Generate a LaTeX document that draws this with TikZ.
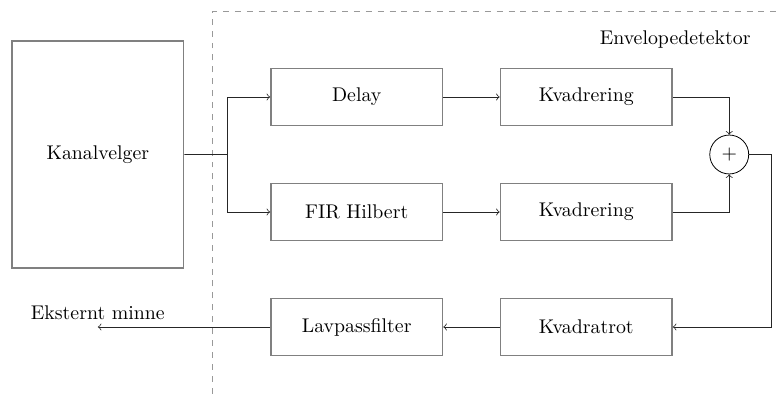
\documentclass[tikz,border=0pt]{standalone}
\usetikzlibrary{positioning,calc}

\begin{document}
\begin{tikzpicture}[
        block/.style={rectangle, draw=gray, thick, fill=white, minimum width=3.04cm, minimum height=1.01cm},
        bigblock/.style={block, minimum height=4.03cm},
        sumnode/.style={circle, draw, inner sep=0pt, minimum size=0.69cm},
        signal/.style={->, draw=black!85},
        groupline/.style={draw=gray!80, dashed}
    ]
        % envelope detector chain
        \node[block] (delay) {Delay};
        \node[block, right=1cm of delay] (kvad1) {Kvadrering};
        \node[block, below=1cm of delay] (fir) {FIR Hilbert};
        \node[block, right=1cm of fir] (kvad2) {Kvadrering};
        \node[block, below=1cm of fir] (lavpass) {Lavpassfilter};
        \node[block, right=1cm of lavpass] (kvadrot) {Kvadratrot};
        \coordinate (mid) at ($(delay.west)!0.5!(fir.west)$);
        \node[bigblock, left=1.52cm of mid] (kanal) {Kanalvelger};
        \coordinate (mid2) at ($(kvad1.east)!0.5!(kvad2.east)$);
        \node[sumnode] (sum) at ([xshift=1cm]mid2) {$+$};

        % helper points
        \coordinate (split) at ($(kanal.east)!0.5!(mid)$);
        \coordinate (ret) at ([xshift=0.4cm]sum.east);
        \coordinate (ut) at (kanal.center |- lavpass.west);
        \coordinate (dashcorner) at ($(kanal.east |- delay.north) + (0.5cm,1cm)$);
        \coordinate (bbnw) at ($(kanal.west |- dashcorner) + (-0.2cm,0.2cm)$);
        \coordinate (bbse) at ($(ret |- lavpass.south) + (0.13cm,-0.66cm)$);
        \useasboundingbox (bbnw) rectangle (bbse);

        % group frame
        \draw[groupline] (dashcorner |- bbse) -- (dashcorner) -- (bbse |- dashcorner);
        \node[anchor=east] (envtitle) at ([xshift=-0.25cm, yshift=0.5cm]ret |- delay.north) {Envelopedetektor};

        % signals
        \draw[black!85] (kanal.east) -- (split);
        \draw[signal] (split) |- (delay.west);
        \draw[signal] (split) |- (fir.west);
        \draw[signal] (delay) -- (kvad1);
        \draw[signal] (fir) -- (kvad2);
        \draw[signal] (kvad1.east) -| (sum.north);
        \draw[signal] (kvad2.east) -| (sum.south);
        \draw[signal] (sum.east) -- (ret) |- (kvadrot.east);
        \draw[signal] (kvadrot) -- (lavpass);
        \draw[signal] (lavpass.west) -- (ut) node[above, black] (ekstern) {Eksternt minne};
    \end{tikzpicture}
\end{document}
